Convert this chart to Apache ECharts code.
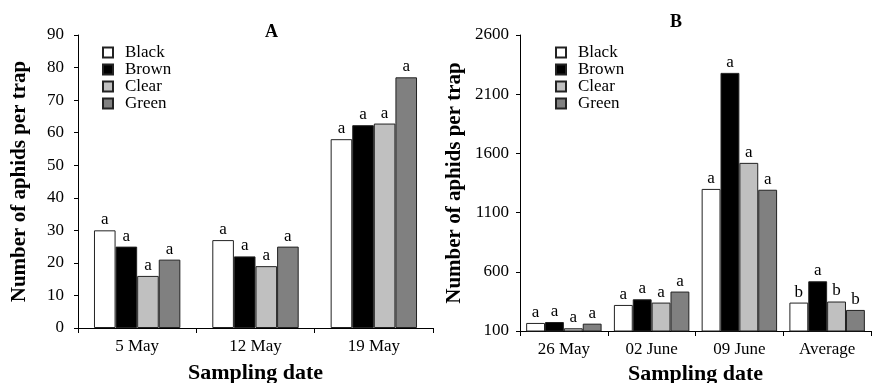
<!DOCTYPE html>
<html>
<head>
<meta charset="utf-8">
<script src="https://cdn.jsdelivr.net/npm/echarts@6/dist/echarts.min.js"></script>
<style>
  html, body { margin: 0; padding: 0; background: #fff; }
  #chart { width: 873px; height: 383px; }
</style>
</head>
<body>
<div id="chart"></div>
<script>
// panel A
var datesA = ["5 May", "12 May", "19 May"];
var blackA = [30, 27, 58];
var brownA = [25, 22, 62.3];
var clearA = [16, 19, 62.8];
var greenA = [21, 25, 77];
var lettersA = [["a", "a", "a"], ["a", "a", "a"], ["a", "a", "a"], ["a", "a", "a"]];

// panel B
var datesB = ["26 May", "02 June", "09 June", "Average"];
var blackB = [168, 320, 1300, 340];
var brownB = [176, 368, 2280, 520];
var clearB = [123, 340, 1520, 349];
var greenB = [162, 433, 1293, 278];
var lettersB = [["a", "a", "a", "b"], ["a", "a", "a", "a"], ["a", "a", "a", "b"], ["a", "a", "a", "b"]];

var trapNames = ["Black", "Brown", "Clear", "Green"];
var trapColors = ["#ffffff", "#000000", "#c0c0c0", "#808080"];

var font = "Liberation Serif";

function makeSeries(name, idx, data, letters, axisIdx, gap) {
  return {
    name: name,
    type: "bar",
    xAxisIndex: axisIdx,
    yAxisIndex: axisIdx,
    data: data,
    barGap: "0%",
    barCategoryGap: gap,
    itemStyle: {
      color: trapColors[idx],
      borderColor: "#222",
      borderWidth: 1
    },
    label: {
      show: true,
      position: "top",
      distance: 2,
      color: "#000",
      fontFamily: font,
      fontSize: 17,
      formatter: function (p) {
        return letters[idx][p.dataIndex];
      }
    }
  };
}

var seriesList = [];
[blackA, brownA, clearA, greenA].forEach(function (d, i) {
  seriesList.push(makeSeries(trapNames[i], i, d, lettersA, 0, "27%"));
});
[blackB, brownB, clearB, greenB].forEach(function (d, i) {
  seriesList.push(makeSeries(trapNames[i], i, d, lettersB, 1, "14%"));
});

function xAxisOf(idx, cats, gap) {
  return {
    type: "category",
    gridIndex: idx,
    data: cats,
    name: "Sampling date",
    nameLocation: "middle",
    nameGap: gap,
    nameTextStyle: { fontFamily: font, fontWeight: "bold", fontSize: 22, color: "#000" },
    axisLine: { lineStyle: { color: "#000", width: 1 } },
    axisTick: { show: true, length: 5, lineStyle: { color: "#000" } },
    axisLabel: { fontFamily: font, fontSize: 17, color: "#000", margin: 10 }
  };
}

function yAxisOf(idx, min, max, step, gap, margin) {
  return {
    type: "value",
    gridIndex: idx,
    min: min,
    max: max,
    interval: step,
    name: "Number of aphids per trap",
    nameLocation: "middle",
    nameRotate: 90,
    nameGap: gap,
    nameTextStyle: { fontFamily: font, fontWeight: "bold", fontSize: 21, color: "#000" },
    axisLine: { show: true, lineStyle: { color: "#000", width: 1 } },
    axisTick: { show: true, length: 4, lineStyle: { color: "#000" } },
    axisLabel: {
      fontFamily: font, fontSize: 17, color: "#000", margin: margin,
      formatter: function (v) { return String(v); }
    },
    splitLine: { show: false }
  };
}

var legendText = { fontFamily: font, fontSize: 17, color: "#000", lineHeight: 15, padding: [0, 0, 0, 7] };

var chart = echarts.init(document.getElementById("chart"));
chart.setOption({
  animation: false,
  backgroundColor: "#fff",
  title: [
    { text: "A", left: 260, top: 18, textStyle: { fontFamily: font, fontWeight: "bold", fontSize: 18, color: "#000" } },
    { text: "B", left: 665, top: 8, textStyle: { fontFamily: font, fontWeight: "bold", fontSize: 18, color: "#000" } }
  ],
  legend: [
    {
      data: trapNames,
      orient: "vertical",
      left: 97,
      top: 39,
      icon: "rect",
      itemWidth: 10,
      itemHeight: 10,
      itemGap: 0,
      selectedMode: false,
      textStyle: legendText
    },
    {
      data: trapNames,
      orient: "vertical",
      left: 550,
      top: 39,
      icon: "rect",
      itemWidth: 10,
      itemHeight: 10,
      itemGap: 0,
      selectedMode: false,
      textStyle: legendText
    }
  ],
  grid: [
    { left: 78, right: 440, top: 35, bottom: 55, outerBoundsMode: "none", containLabel: false },
    { left: 520, right: 2, top: 35, bottom: 52, outerBoundsMode: "none", containLabel: false }
  ],
  xAxis: [xAxisOf(0, datesA, 34), xAxisOf(1, datesB, 31)],
  yAxis: [yAxisOf(0, 0, 90, 10, 48, 14), yAxisOf(1, 100, 2600, 500, 55, 11)],
  series: seriesList
});
window.addEventListener("resize", function () {
  chart.resize();
});
</script>
</body>
</html>
